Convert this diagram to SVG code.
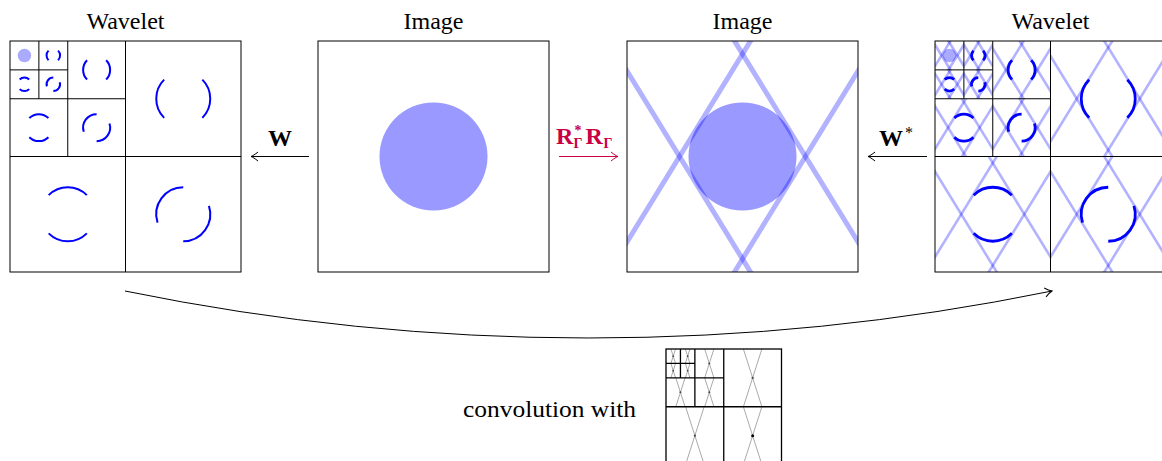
<svg xmlns="http://www.w3.org/2000/svg" xmlns:xlink="http://www.w3.org/1999/xlink" width="1162" height="461" viewBox="0 0 1162 461">
<style>
.box{fill:none;stroke:#000;stroke-width:1}
.kbox{fill:none;stroke:#000;stroke-width:1.3}
.title{font-family:"Liberation Serif",serif;font-size:24px;fill:#000;text-anchor:middle}
.lab{font-family:"Liberation Serif",serif;font-size:24px;font-weight:bold}
.arcL{fill:none;stroke:#0000ff;stroke-width:2}
.arcR{fill:none;stroke:#0000ff;stroke-width:2.8}
.ray{fill:none;stroke:#0000ff;stroke-opacity:0.3;stroke-width:5}
.rayw{fill:none;stroke:#0000ff;stroke-opacity:0.3;stroke-width:2.6}
.kray{fill:none;stroke:#aaaaaa;stroke-width:1}
</style>
<defs>
<marker id="toK" markerUnits="userSpaceOnUse" markerWidth="12" markerHeight="12" viewBox="-9 -6 12 12" refX="0" refY="0" orient="auto" overflow="visible">
<path d="M-7,-4.5 C-4,-2 -1.5,-0.6 0,0 C-1.5,0.6 -4,2 -7,4.5" fill="none" stroke="#000" stroke-width="1"/>
</marker>
<marker id="toR" markerUnits="userSpaceOnUse" markerWidth="12" markerHeight="12" viewBox="-9 -6 12 12" refX="0" refY="0" orient="auto" overflow="visible">
<path d="M-7,-4.5 C-4,-2 -1.5,-0.6 0,0 C-1.5,0.6 -4,2 -7,4.5" fill="none" stroke="#c80045" stroke-width="1"/>
</marker>
<clipPath id="tile"><rect x="-115.5" y="-115.5" width="231" height="231"/></clipPath>
<g id="rays">
<line x1="-189" y1="-205" x2="63" y2="205" vector-effect="non-scaling-stroke"/>
<line x1="-63" y1="-205" x2="189" y2="205" vector-effect="non-scaling-stroke"/>
<line x1="-189" y1="205" x2="63" y2="-205" vector-effect="non-scaling-stroke"/>
<line x1="-63" y1="205" x2="189" y2="-205" vector-effect="non-scaling-stroke"/>
</g>
<g id="hArcs">
<path d="M38.18,-38.18 A54,54 0 0 1 38.18,38.18" vector-effect="non-scaling-stroke"/>
<path d="M-38.18,-38.18 A54,54 0 0 0 -38.18,38.18" vector-effect="non-scaling-stroke"/>
</g>
<g id="vArcs">
<path d="M-38.18,-38.18 A54,54 0 0 1 38.18,-38.18" vector-effect="non-scaling-stroke"/>
<path d="M-38.18,38.18 A54,54 0 0 0 38.18,38.18" vector-effect="non-scaling-stroke"/>
</g>
<g id="dArcs">
<path d="M0,-54 A54,54 0 0 0 -51.36,16.69" vector-effect="non-scaling-stroke"/>
<path d="M51.36,-16.69 A54,54 0 0 1 0,54" vector-effect="non-scaling-stroke"/>
</g>
<g id="kx">
<line x1="-37" y1="-115.5" x2="37" y2="115.5" vector-effect="non-scaling-stroke"/>
<line x1="37" y1="-115.5" x2="-37" y2="115.5" vector-effect="non-scaling-stroke"/>
</g>
</defs>

<g id="title-wavelet-left"><text class="title" x="125.5" y="28.5">Wavelet</text></g>
<g id="title-image-1"><text class="title" x="433.5" y="28.5">Image</text></g>
<g id="title-image-2"><text class="title" x="742.5" y="28.5">Image</text></g>
<g id="title-wavelet-right"><text class="title" x="1050.5" y="28.5">Wavelet</text></g>

<g id="wavelet-left">
<circle cx="24.44" cy="55.44" r="6.75" fill="#aaaaff"/>
<g class="arcL">
<use xlink:href="#hArcs" transform="translate(183.25,98.75) scale(0.5)"/>
<use xlink:href="#vArcs" transform="translate(67.75,214.25) scale(0.5)"/>
<use xlink:href="#dArcs" transform="translate(183.25,214.25) scale(0.5)"/>
<use xlink:href="#hArcs" transform="translate(96.625,69.875) scale(0.25)"/>
<use xlink:href="#vArcs" transform="translate(38.875,127.625) scale(0.25)"/>
<use xlink:href="#dArcs" transform="translate(96.625,127.625) scale(0.25)"/>
<use xlink:href="#hArcs" transform="translate(53.31,55.44) scale(0.125)"/>
<use xlink:href="#vArcs" transform="translate(24.44,84.31) scale(0.125)"/>
<use xlink:href="#dArcs" transform="translate(53.31,84.31) scale(0.125)"/>
</g>
<rect class="box" x="10" y="41" width="231" height="231"/>
<path class="box" d="M125.5,41V272M10,156.5H241M67.75,41V156.5M10,98.75H125.5M38.875,41V98.75M10,69.875H67.75"/>
</g>

<g id="image-1">
<circle cx="433.5" cy="156.5" r="54" fill="#9999ff"/>
<rect class="box" x="318" y="41" width="231" height="231"/>
</g>

<g id="image-2">
<circle cx="742.5" cy="156.5" r="54" fill="#9999ff"/>
<g transform="translate(742.5,156.5)" clip-path="url(#tile)"><use xlink:href="#rays" class="ray"/></g>
<rect class="box" x="627" y="41" width="231" height="231"/>
</g>

<g id="wavelet-right">
<circle cx="949.44" cy="55.44" r="6.75" fill="#aaaaff"/>
<g class="rayw">
<g transform="translate(1108.25,98.75) scale(0.5)" clip-path="url(#tile)"><use xlink:href="#rays"/></g>
<g transform="translate(992.75,214.25) scale(0.5)" clip-path="url(#tile)"><use xlink:href="#rays"/></g>
<g transform="translate(1108.25,214.25) scale(0.5)" clip-path="url(#tile)"><use xlink:href="#rays"/></g>
<g transform="translate(1021.625,69.875) scale(0.25)" clip-path="url(#tile)"><use xlink:href="#rays"/></g>
<g transform="translate(963.875,127.625) scale(0.25)" clip-path="url(#tile)"><use xlink:href="#rays"/></g>
<g transform="translate(1021.625,127.625) scale(0.25)" clip-path="url(#tile)"><use xlink:href="#rays"/></g>
<g transform="translate(978.31,55.44) scale(0.125)" clip-path="url(#tile)"><use xlink:href="#rays"/></g>
<g transform="translate(949.44,84.31) scale(0.125)" clip-path="url(#tile)"><use xlink:href="#rays"/></g>
<g transform="translate(978.31,84.31) scale(0.125)" clip-path="url(#tile)"><use xlink:href="#rays"/></g>
<g transform="translate(949.44,55.44) scale(0.125)" clip-path="url(#tile)"><use xlink:href="#rays"/></g>
</g>
<g class="arcR">
<use xlink:href="#hArcs" transform="translate(1108.25,98.75) scale(0.5)"/>
<use xlink:href="#vArcs" transform="translate(992.75,214.25) scale(0.5)"/>
<use xlink:href="#dArcs" transform="translate(1108.25,214.25) scale(0.5)"/>
<use xlink:href="#hArcs" transform="translate(1021.625,69.875) scale(0.25)"/>
<use xlink:href="#vArcs" transform="translate(963.875,127.625) scale(0.25)"/>
<use xlink:href="#dArcs" transform="translate(1021.625,127.625) scale(0.25)"/>
<use xlink:href="#hArcs" transform="translate(978.31,55.44) scale(0.125)"/>
<use xlink:href="#vArcs" transform="translate(949.44,84.31) scale(0.125)"/>
<use xlink:href="#dArcs" transform="translate(978.31,84.31) scale(0.125)"/>
</g>
<rect class="box" x="935" y="41" width="231" height="231"/>
<path class="box" d="M1050.5,41V272M935,156.5H1166M992.75,41V156.5M935,98.75H1050.5M963.875,41V98.75M935,69.875H992.75"/>
</g>

<g id="kernel">
<g class="kray">
<use xlink:href="#kx" transform="translate(752.625,377.875) scale(0.25)"/>
<use xlink:href="#kx" transform="translate(694.875,435.625) scale(0.25)"/>
<use xlink:href="#kx" transform="translate(752.625,435.625) scale(0.25)"/>
<use xlink:href="#kx" transform="translate(709.31,363.44) scale(0.125)"/>
<use xlink:href="#kx" transform="translate(680.44,392.31) scale(0.125)"/>
<use xlink:href="#kx" transform="translate(709.31,392.31) scale(0.125)"/>
<use xlink:href="#kx" transform="translate(687.66,356.22) scale(0.0625)"/>
<use xlink:href="#kx" transform="translate(673.22,370.66) scale(0.0625)"/>
<use xlink:href="#kx" transform="translate(687.66,370.66) scale(0.0625)"/>
<use xlink:href="#kx" transform="translate(673.22,356.22) scale(0.0625)"/>
</g>
<g fill="#444">
<circle cx="752.625" cy="377.875" r="1.1"/>
<circle cx="694.875" cy="435.625" r="1.1"/>
<circle cx="709.31" cy="363.44" r="1"/>
<circle cx="680.44" cy="392.31" r="1"/>
<circle cx="709.31" cy="392.31" r="1"/>
<circle cx="687.66" cy="356.22" r="0.9"/>
<circle cx="673.22" cy="370.66" r="0.9"/>
<circle cx="687.66" cy="370.66" r="0.9"/>
<circle cx="673.22" cy="356.22" r="0.9"/>
</g>
<circle cx="752.625" cy="435.625" r="1.5" fill="#000"/>
<rect class="kbox" x="666" y="349" width="115.5" height="115.5"/>
<path class="kbox" d="M723.75,349V464.5M666,406.75H781.5M694.875,349V406.75M666,377.875H723.75M680.44,349V377.875M666,363.44H694.875"/>
</g>

<g id="label-convolution"><text class="title" x="549.5" y="417" textLength="173" lengthAdjust="spacingAndGlyphs">convolution with</text></g>

<g id="connectors">
<line x1="309" y1="156.5" x2="251" y2="156.5" stroke="#000" stroke-width="1" marker-end="url(#toK)"/>
<line x1="559" y1="156.5" x2="618" y2="156.5" stroke="#c80045" stroke-width="1" marker-end="url(#toR)"/>
<line x1="927" y1="156.5" x2="868" y2="156.5" stroke="#000" stroke-width="1" marker-end="url(#toK)"/>
<path d="M125,291 A2309,2309 0 0 0 1052,291" fill="none" stroke="#000" stroke-width="1" marker-end="url(#toK)"/>
<text class="lab" x="280" y="146" text-anchor="middle" fill="#000">W</text>
<text class="lab" fill="#c80045" font-size="23"><tspan x="556" y="143.5">R</tspan><tspan x="574.5" y="135" font-size="14">*</tspan><tspan x="573.5" y="148" font-size="14">Γ</tspan><tspan x="585.5" y="143.5">R</tspan><tspan x="603.5" y="148" font-size="14">Γ</tspan></text>
<text class="lab" x="879" y="146" fill="#000">W<tspan x="905" y="138" font-size="16" font-weight="normal">*</tspan></text>
</g>
</svg>
